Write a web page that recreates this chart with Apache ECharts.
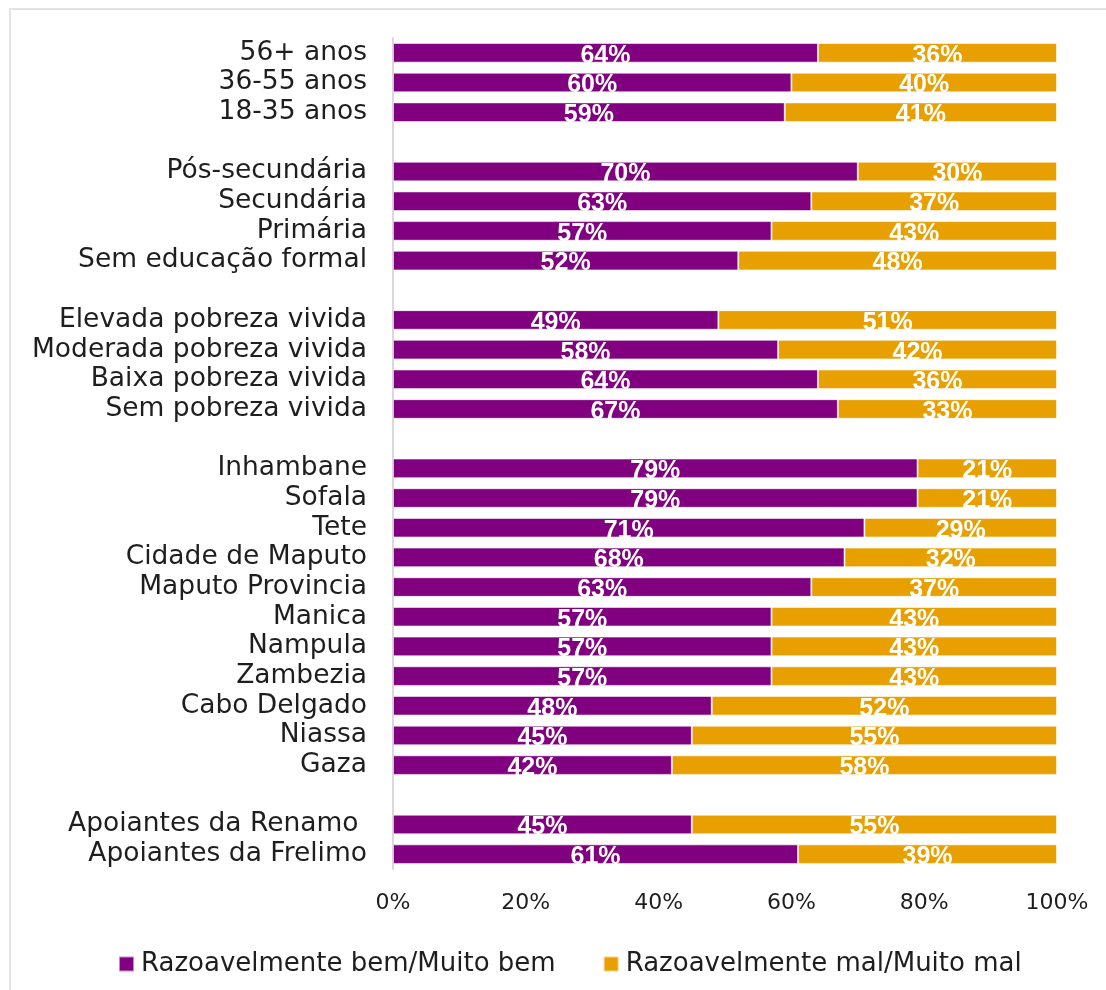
<!DOCTYPE html>
<html>
<head>
<meta charset="utf-8">
<script src="https://cdn.jsdelivr.net/npm/echarts@6/dist/echarts.min.js"></script>
<style>
  html, body { margin: 0; padding: 0; background: #fff; }
  #chart { width: 1106px; height: 990px; }
</style>
</head>
<body>
<div id="chart"></div>
<script>
// Row labels, top to bottom; empty strings separate the groups
const categories = [
  '56+ anos', '36-55 anos', '18-35 anos', '',
  'Pós-secundária', 'Secundária', 'Primária', 'Sem educação formal', '',
  'Elevada pobreza vivida', 'Moderada pobreza vivida', 'Baixa pobreza vivida', 'Sem pobreza vivida', '',
  'Inhambane', 'Sofala', 'Tete', 'Cidade de Maputo', 'Maputo Provincia', 'Manica',
  'Nampula', 'Zambezia', 'Cabo Delgado', 'Niassa', 'Gaza', '',
  'Apoiantes da Renamo ', 'Apoiantes da Frelimo'
];

// Percent answering "well"
const bemValues = [
  64, 60, 59, null,
  70, 63, 57, 52, null,
  49, 58, 64, 67, null,
  79, 79, 71, 68, 63, 57, 57, 57, 48, 45, 42, null,
  45, 61
];

// Percent answering "badly"
const malValues = [
  36, 40, 41, null,
  30, 37, 43, 48, null,
  51, 42, 36, 33, null,
  21, 21, 29, 32, 37, 43, 43, 43, 52, 55, 58, null,
  55, 39
];

const seriesNames = ['Razoavelmente bem/Muito bem', 'Razoavelmente mal/Muito mal'];
const xTicks = [0, 20, 40, 60, 80, 100];

const PURPLE = '#800080';
const ORANGE = '#E8A000';
const FONT = 'DejaVu Sans';
const TEXT = '#1e1e1e';

const chart = echarts.init(document.getElementById('chart'), null, { renderer: 'canvas' });

const valueLabel = {
  show: true,
  position: 'inside',
  offset: [0, 3],
  color: '#fff',
  fontFamily: 'Liberation Sans',
  fontWeight: 'bold',
  fontSize: 25,
  formatter: p => (p.value == null ? '' : p.value + '%')
};

// White strips in the gaps between bars, so value labels stop at the bar edge
const gapRows = categories.map((c, i) => [i]);

chart.setOption({
  animation: false,
  grid: { left: 393, right: 49, top: 38, bottom: 121, containLabel: false },
  legend: {
    left: 113,
    top: 946,
    itemWidth: 15,
    itemHeight: 15,
    itemGap: 47,
    icon: 'rect',
    textStyle: { fontFamily: FONT, fontSize: 26, color: TEXT, padding: [0, 0, 0, 2] },
    data: seriesNames
  },
  xAxis: {
    type: 'value',
    min: xTicks[0],
    max: xTicks[xTicks.length - 1],
    interval: 20,
    axisLine: { show: false },
    axisTick: { show: false },
    splitLine: { show: false },
    axisLabel: {
      formatter: '{value}%',
      margin: 23,
      fontFamily: FONT,
      fontSize: 22,
      color: TEXT
    }
  },
  yAxis: {
    type: 'category',
    inverse: true,
    data: categories,
    axisLine: { show: true, lineStyle: { color: '#d9d9d9', width: 2 } },
    axisTick: { show: false },
    axisLabel: {
      interval: 0,
      margin: 26,
      fontFamily: FONT,
      fontSize: 26.5,
      color: TEXT
    }
  },
  graphic: [
    { type: 'line', shape: { x1: 9, y1: 9, x2: 1106, y2: 9 }, style: { stroke: '#e2e2e2', lineWidth: 2 }, silent: true },
    { type: 'line', shape: { x1: 10, y1: 9, x2: 10, y2: 990 }, style: { stroke: '#e2e2e2', lineWidth: 2 }, silent: true }
  ],
  series: [
    {
      name: seriesNames[0],
      type: 'bar',
      stack: 'total',
      barCategoryGap: '34%',
      data: bemValues,
      itemStyle: { color: PURPLE, borderColor: 'rgba(255,255,255,0.55)', borderWidth: 1 },
      label: valueLabel,
      z: 2
    },
    {
      name: seriesNames[1],
      type: 'bar',
      stack: 'total',
      barCategoryGap: '34%',
      data: malValues,
      itemStyle: { color: ORANGE, borderColor: 'rgba(255,255,255,0.55)', borderWidth: 1 },
      label: valueLabel,
      z: 2
    },
    {
      type: 'custom',
      silent: true,
      z: 10,
      data: gapRows,
      encode: { y: 0 },
      renderItem: function (params, api) {
        const row = api.value(0);
        const band = api.size([0, 1])[1];
        const barH = band * 0.66;
        const yc = api.coord([0, row])[1];
        const x0 = api.coord([0, row])[0] + 2;
        const x1 = api.coord([100, row])[0] + 2;
        return {
          type: 'rect',
          shape: { x: x0, y: yc + barH / 2, width: x1 - x0, height: band - barH },
          style: { fill: '#fff' }
        };
      }
    }
  ]
});
</script>
</body>
</html>
